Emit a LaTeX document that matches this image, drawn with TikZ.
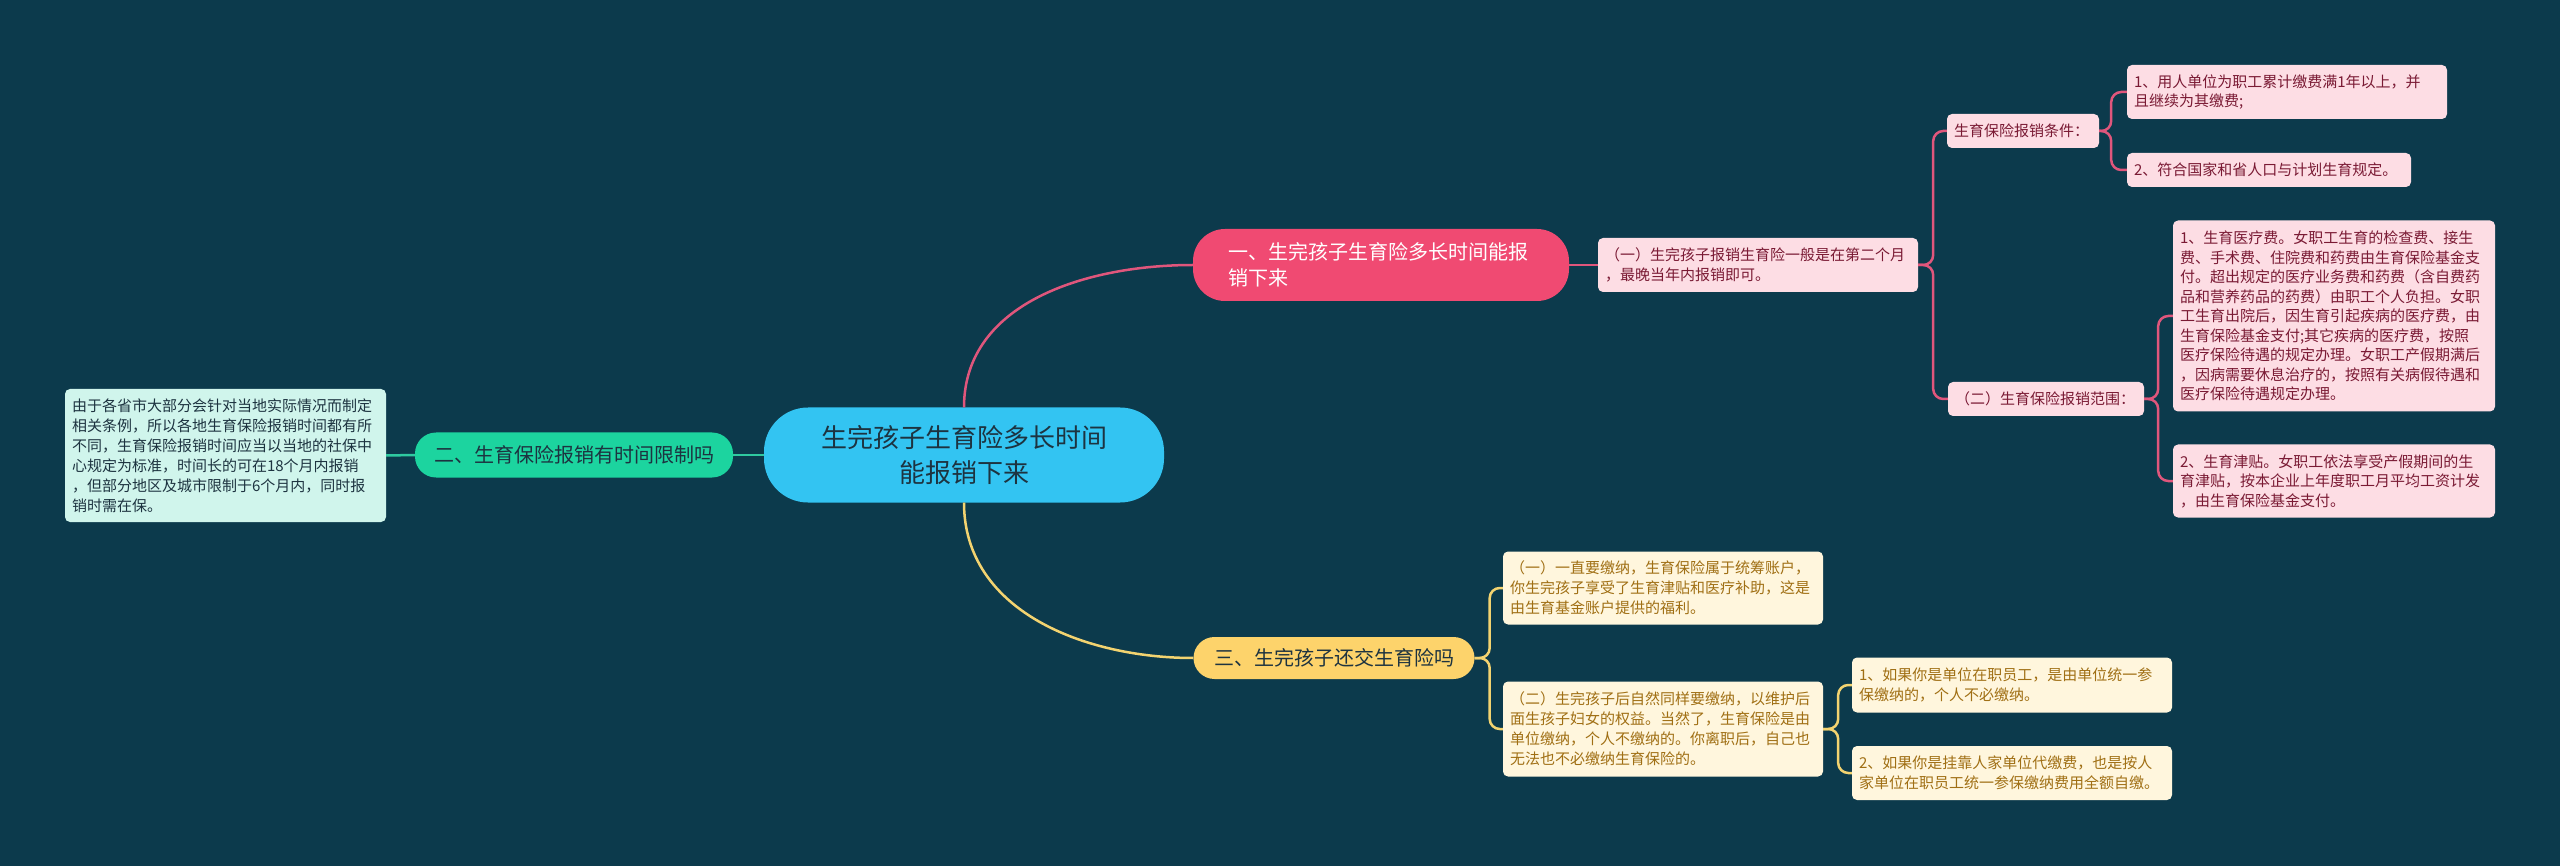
\documentclass[tikz,border=0pt]{standalone}
\usepackage{fontspec}
\setmainfont{Noto Sans CJK SC}
\definecolor{bgblue}{HTML}{0C3A4C}
\definecolor{rootfill}{HTML}{33C4F2}
\definecolor{darktext}{HTML}{1D3340}
\definecolor{pkfill}{HTML}{F04A72}
\definecolor{pkline}{HTML}{E0567C}
\definecolor{pkleaf}{HTML}{FDDDE4}
\definecolor{pktext}{HTML}{7A1A34}
\definecolor{gnfill}{HTML}{1CD49F}
\definecolor{gnline}{HTML}{2FC9A0}
\definecolor{gnleaf}{HTML}{D0F5EC}
\definecolor{ywfill}{HTML}{FDD36B}
\definecolor{ywline}{HTML}{F3D370}
\definecolor{ywleaf}{HTML}{FFF6DD}
\definecolor{ywtext}{HTML}{A06F14}

\begin{document}
\begin{tikzpicture}[x=1pt,y=-1pt,
  root/.style={fill=rootfill,text=darktext,rounded corners=44pt,minimum width=400pt,
    minimum height=95pt,align=center,inner sep=0pt,font=\fontsize{26}{35}\selectfont},
  topic/.style={rounded corners=21pt,inner sep=0pt,font=\fontsize{20}{26}\selectfont},
  note/.style={rounded corners=5pt,align=left,inner xsep=7pt,inner ysep=0pt,
    font=\fontsize{15}{20}\selectfont},
  pinknote/.style={note,fill=pkleaf,text=pktext,font=\fontsize{15}{19.5}\selectfont},
  greennote/.style={note,fill=gnleaf,text=darktext},
  yellownote/.style={note,fill=ywleaf,text=ywtext},
  pinkwire/.style={draw=pkline,line width=2.5pt,rounded corners=10pt},
  greenwire/.style={draw=gnline,line width=2.5pt},
  yellowwire/.style={draw=ywline,line width=2.5pt,rounded corners=10pt}]

\fill[bgblue] (0,0) rectangle (2560,866);
\useasboundingbox (0,0) rectangle (2560,866);

\node[root] (root) at (964,455) {生完孩子生育险多长时间\\能报销下来};

% pink branch
\node[topic,fill=pkfill,text=white,rounded corners=32pt,align=left,text width=306pt,
  inner xsep=35pt,minimum height=72pt] (b1) at (1381,265)
  {一、生完孩子生育险多长时间能报\\销下来};
\node[pinknote,text width=306pt,minimum height=54pt] (sub1) at (1758,265)
  {（一）生完孩子报销生育险一般是在第二个月\\，最晚当年内报销即可。};
\node[pinknote,text width=138pt,minimum height=34pt] (cond) at (2023,131) {生育保险报销条件：};
\node[pinknote,text width=306pt,minimum height=54pt] (cond1) at (2287,92)
  {1、用人单位为职工累计缴费满1年以上，并\\且继续为其缴费;};
\node[pinknote,text width=270pt,minimum height=34pt] (cond2) at (2269,170)
  {2、符合国家和省人口与计划生育规定。};
\node[pinknote,text width=182pt,minimum height=34pt] (scope) at (2046,399) {（二）生育保险报销范围：};
\node[pinknote,text width=308pt,minimum height=191pt] (scope1) at (2334,316)
  {1、生育医疗费。女职工生育的检查费、接生\\费、手术费、住院费和药费由生育保险基金支\\付。超出规定的医疗业务费和药费（含自费药\\品和营养药品的药费）由职工个人负担。女职\\工生育出院后，因生育引起疾病的医疗费，由\\生育保险基金支付;其它疾病的医疗费，按照\\医疗保险待遇的规定办理。女职工产假期满后\\，因病需要休息治疗的，按照有关病假待遇和\\医疗保险待遇规定办理。};
\node[pinknote,text width=308pt,minimum height=73pt] (scope2) at (2334,481)
  {2、生育津贴。女职工依法享受产假期间的生\\育津贴，按本企业上年度职工月平均工资计发\\，由生育保险基金支付。};

% green branch
\node[topic,fill=gnfill,text=darktext,minimum width=318pt,minimum height=45pt] (b2) at (574,455)
  {二、生育保险报销有时间限制吗};
\node[greennote,text width=307pt,minimum height=133pt] (limit) at (225.5,455.5)
  {由于各省市大部分会针对当地实际情况而制定\\相关条例，所以各地生育保险报销时间都有所\\不同，生育保险报销时间应当以当地的社保中\\心规定为标准，时间长的可在18个月内报销\\，但部分地区及城市限制于6个月内，同时报\\销时需在保。};

% yellow branch
\node[topic,fill=ywfill,text=darktext,minimum width=281pt,minimum height=42pt] (b3) at (1334,658)
  {三、生完孩子还交生育险吗};
\node[yellownote,text width=306pt,minimum height=73pt] (pay1) at (1663,588)
  {（一）一直要缴纳，生育保险属于统筹账户，\\你生完孩子享受了生育津贴和医疗补助，这是\\由生育基金账户提供的福利。};
\node[yellownote,text width=306pt,minimum height=95pt] (pay2) at (1663,729)
  {（二）生完孩子后自然同样要缴纳，以维护后\\面生孩子妇女的权益。当然了，生育保险是由\\单位缴纳，个人不缴纳的。你离职后，自己也\\无法也不必缴纳生育保险的。};
\node[yellownote,text width=306pt,minimum height=55pt] (pay21) at (2012,685)
  {1、如果你是单位在职员工，是由单位统一参\\保缴纳的，个人不必缴纳。};
\node[yellownote,text width=306pt,minimum height=54pt] (pay22) at (2012,773)
  {2、如果你是挂靠人家单位代缴费，也是按人\\家单位在职员工统一参保缴纳费用全额自缴。};

% wires
\path[pinkwire] (root.north) edge[out=90,in=180] (b1.west)
  (b1.east) edge (sub1.west);
\draw[pinkwire] (sub1.east) -- ++(15,0) |- (cond.west);
\draw[pinkwire] (sub1.east) -- ++(15,0) |- (scope.west);
\draw[pinkwire] (cond.east) -- ++(12,0) |- (cond1.west);
\draw[pinkwire] (cond.east) -- ++(12,0) |- (cond2.west);
\draw[pinkwire] (scope.east) -- ++(14,0) |- (scope1.west);
\draw[pinkwire] (scope.east) -- ++(14,0) |- (scope2.west);
\path[greenwire] (root.west) edge (b2.east)
  (b2.west) edge (limit.east);
\path[yellowwire] (root.south) edge[out=-90,in=180] (b3.west);
\draw[yellowwire] (b3.east) -- ++(15,0) |- (pay1.west);
\draw[yellowwire] (b3.east) -- ++(15,0) |- (pay2.west);
\draw[yellowwire] (pay2.east) -- ++(15,0) |- (pay21.west);
\draw[yellowwire] (pay2.east) -- ++(15,0) |- (pay22.west);
\end{tikzpicture}
\end{document}
